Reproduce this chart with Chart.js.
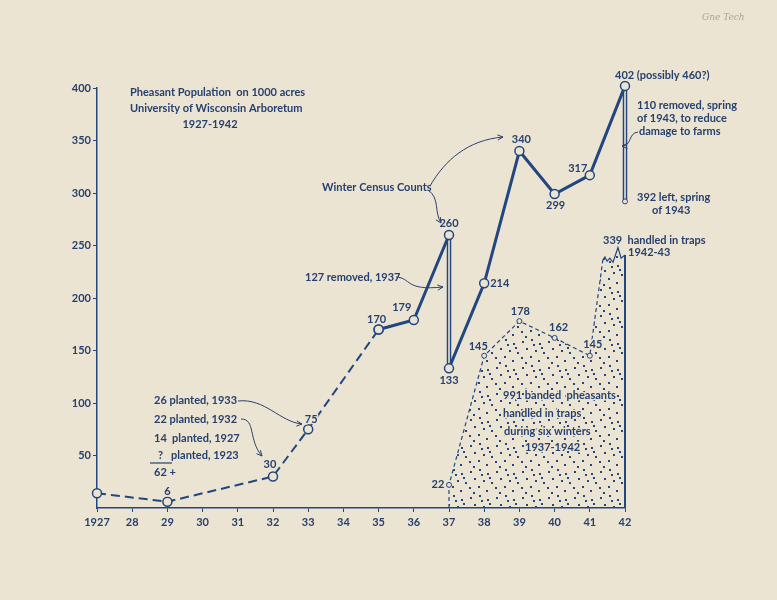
<!DOCTYPE html>
<html>
<head>
<meta charset="utf-8">
<script src="https://cdn.jsdelivr.net/npm/chart.js@4/dist/chart.umd.min.js"></script>
<style>
  html, body { margin: 0; padding: 0; background: #ebe4d2; }
  #wrap { width: 777px; height: 600px; position: relative; }
</style>
</head>
<body>
<div id="wrap"><canvas id="pheasants"></canvas></div>
<script>
// census counts, dashed part (early years)
const earlyYears = [1927, 1929, 1932, 1933, 1935];
const earlyCounts = [14, 6, 30, 75, 170];
// solid part up to the 1937 removal
const midYears = [1935, 1936, 1937];
const midCounts = [170, 179, 260];
// after the 127 removed in 1937
const lateYears = [1937, 1938, 1939, 1940, 1941, 1942];
const lateCounts = [133, 214, 340, 299, 317, 402];
// removals (drop lines)
const removal1937 = [260, 133];
const removal1942 = [402, 292];
// banded pheasants handled in traps (dotted area), incl. the broken-off top of 1942
const trapYears = [1937, 1937, 1938, 1939, 1940, 1941, 1941.37, 1941.43, 1941.49, 1941.57, 1941.66, 1941.8, 1941.89, 1942, 1942];
const trapCounts = [0, 22, 145, 178, 162, 145, 236, 239, 235, 238, 234, 248, 238, 241, 0];
const yTicks = [50, 100, 150, 200, 250, 300, 350, 400];

const INK = "#22467f";
const TXT = "#27406f";
const PAPER = "#ebe4d2";
const FONT = "bold 11px Lato, 'DejaVu Sans', sans-serif";

function pts(xs, ys) {
    return xs.map((x, i) => ({ x: x, y: ys[i] }));
}

// dot pattern for the traps area
function dotPattern() {
    const c = document.createElement("canvas");
    c.width = 26; c.height = 26;
    const g = c.getContext("2d");
    g.fillStyle = INK;
    const dots = [[2,3],[11,1],[19,5],[6,10],[15,12],[23,14],[1,19],[10,18],[18,22],[5,24],[21,9],[13,6]];
    dots.forEach(d => g.fillRect(d[0], d[1], 2, 2));
    return g.createPattern(c, "repeat");
}

function arrow(g, p) {
    // p: [x0,y0, c1x,c1y, c2x,c2y, x1,y1]
    g.beginPath();
    g.moveTo(p[0], p[1]);
    g.bezierCurveTo(p[2], p[3], p[4], p[5], p[6], p[7]);
    g.stroke();
    const a = Math.atan2(p[7] - p[5], p[6] - p[4]);
    g.beginPath();
    g.moveTo(p[6], p[7]);
    g.lineTo(p[6] - 6 * Math.cos(a - 0.45), p[7] - 6 * Math.sin(a - 0.45));
    g.moveTo(p[6], p[7]);
    g.lineTo(p[6] - 6 * Math.cos(a + 0.45), p[7] - 6 * Math.sin(a + 0.45));
    g.stroke();
}

const notes = {
    id: "notes",
    afterDraw(chart) {
        const g = chart.ctx;
        const xs = chart.scales.x, ys = chart.scales.y;
        const P = (x, y) => [xs.getPixelForValue(x), ys.getPixelForValue(y)];
        g.save();
        g.fillStyle = TXT;
        g.strokeStyle = TXT;
        g.font = FONT;
        g.textBaseline = "middle";
        g.lineJoin = "round";

        // text with a paper halo (for the dotted area)
        const halo = (t, x, y) => {
            g.save();
            g.strokeStyle = PAPER;
            g.lineWidth = 3;
            g.strokeText(t, x, y);
            g.restore();
            g.fillText(t, x, y);
        };

        // value labels next to points
        const lab = (x, y, t, dx, dy, al) => {
            const p = P(x, y);
            g.textAlign = al || "center";
            halo(t, p[0] + dx, p[1] + dy);
        };
        lab(1929, 6, "6", 0, -10);
        lab(1932, 30, "30", -3, -12);
        lab(1933, 75, "75", 3, -10);
        lab(1935, 170, "170", -2, -10);
        lab(1936, 179, "179", -12, -13);
        lab(1937, 260, "260", 0, -12);
        lab(1937, 133, "133", 0, 12);
        lab(1938, 214, "214", 6, 0, "left");
        lab(1939, 340, "340", 2, -12);
        lab(1940, 299, "299", 1, 11);
        lab(1941, 317, "317", -12, -7);
        lab(1942, 402, "402 (possibly 460?)", -10, -10, "left");
        lab(1937, 22, "22", -11, 0);
        lab(1938, 145, "145", -6, -9);
        lab(1939, 178, "178", 1, -10);
        lab(1940, 162, "162", 4, -10);
        lab(1941, 145, "145", 3, -11);

        // title
        g.textAlign = "left";
        g.fillText("Pheasant Population  on 1000 acres", 130, 92);
        g.fillText("University of Wisconsin Arboretum", 130, 108);
        g.textAlign = "center";
        g.fillText("1927-1942", 210, 124);

        // free notes
        g.textAlign = "left";
        g.fillText("Winter Census Counts", 322, 187);
        g.fillText("127 removed, 1937", 305, 277);
        g.fillText("110 removed, spring", 637, 105);
        g.fillText("of 1943, to reduce", 637, 118);
        g.fillText("damage to farms", 639, 131);
        g.fillText("392 left, spring", 637, 197);
        g.fillText("of 1943", 652, 210);
        g.fillText("339  handled in traps", 603, 240);
        g.fillText("1942-43", 628, 252);
        halo("991 banded  pheasants", 503, 395);
        halo("handled in traps", 503, 413);
        halo("during six winters", 504, 431);
        halo("1937-1942", 525, 447);
        g.fillText("26 planted, 1933", 154, 400);
        g.fillText("22 planted, 1932", 154, 419);
        g.fillText("14  planted, 1927", 154, 438);
        g.fillText("?   planted, 1923", 158, 455);
        g.fillText("62 +", 154, 472);

        g.lineWidth = 1.2;
        g.beginPath();
        g.moveTo(150, 463); g.lineTo(172, 463);
        g.stroke();

        g.lineWidth = 1;
        arrow(g, [430, 186, 445, 160, 468, 140, 503, 137]);
        arrow(g, [428, 190, 440, 198, 434, 212, 441, 223]);
        arrow(g, [396, 277, 412, 278, 404, 291, 443, 287]);
        arrow(g, [638, 132, 628, 133, 632, 146, 622, 146]);
        arrow(g, [238, 401, 265, 398, 280, 422, 302, 424]);
        arrow(g, [241, 419, 256, 419, 248, 440, 262, 456]);

        // pencil mark
        g.fillStyle = "rgba(120,115,105,0.55)";
        g.font = "italic 9px 'DejaVu Serif', serif";
        g.fillText("Gne Tech", 702, 18);
        g.restore();
    }
};

document.addEventListener("DOMContentLoaded", () => {
    const ctx = document.getElementById("pheasants");
    const hollow = { pointRadius: 4.5, pointBorderWidth: 1.5, pointBackgroundColor: PAPER, pointBorderColor: INK, clip: false };

    new Chart(ctx, {
        type: "line",
        data: {
            datasets: [
                Object.assign({ data: pts(earlyYears, earlyCounts), borderColor: INK, borderWidth: 2, borderDash: [9, 5], order: 1 }, hollow),
                Object.assign({ data: pts(midYears, midCounts), borderColor: INK, borderWidth: 3, order: 1 }, hollow),
                Object.assign({ data: pts(lateYears, lateCounts), borderColor: INK, borderWidth: 3, order: 1 }, hollow),
                { data: pts([1937, 1937], removal1937), borderColor: INK, borderWidth: 4.5, pointRadius: 0, order: 4, clip: false },
                { data: pts([1937, 1937], removal1937), borderColor: PAPER, borderWidth: 1.6, pointRadius: 0, order: 3, clip: false },
                { data: pts([1942, 1942], removal1942), borderColor: INK, borderWidth: 4.5, pointRadius: 0, order: 4, clip: false },
                { data: pts([1942, 1942], removal1942), borderColor: PAPER, borderWidth: 1.6, clip: false,
                  pointRadius: [0, 2.5], pointBorderWidth: 1, pointBorderColor: INK, pointBackgroundColor: PAPER, order: 3 },
                {
                    data: pts(trapYears, trapCounts),
                    borderColor: INK,
                    borderWidth: 1.2,
                    backgroundColor: dotPattern(),
                    fill: "origin",
                    clip: false,
                    pointRadius: trapCounts.map((v, i) => (i >= 1 && i <= 5 ? 2.5 : 0)),
                    pointBorderWidth: 1,
                    pointBorderColor: INK,
                    pointBackgroundColor: PAPER,
                    segment: {
                        borderDash: (c) => (c.p0DataIndex < 6 ? [4, 3] : []),
                        borderWidth: (c) => (c.p0DataIndex === 13 ? 2 : 1.2),
                    },
                    order: 5,
                },
            ],
        },
        options: {
            responsive: true,
            maintainAspectRatio: false,
            animation: false,
            layout: { padding: { left: 57, right: 152, top: 88, bottom: 62 } },
            plugins: { legend: { display: false }, tooltip: { enabled: false } },
            scales: {
                x: {
                    type: "linear",
                    min: 1927,
                    max: 1942,
                    afterFit: (s) => { s.height = 30; },
                    border: { color: INK, width: 1.5 },
                    grid: { drawOnChartArea: false, color: INK, tickLength: 4 },
                    ticks: {
                        stepSize: 1,
                        autoSkip: false,
                        padding: 4,
                        color: TXT,
                        font: { family: "Lato, 'DejaVu Sans', sans-serif", weight: "bold", size: 11 },
                        callback: (v) => (v === 1927 ? "1927" : String(v).slice(2)),
                    },
                },
                y: {
                    min: 0,
                    max: 400,
                    afterFit: (s) => { s.width = 40; },
                    afterBuildTicks: (s) => { s.ticks = yTicks.map((v) => ({ value: v })); },
                    border: { color: INK, width: 1.5 },
                    grid: { drawOnChartArea: false, color: INK, tickLength: 4 },
                    ticks: {
                        padding: 2,
                        color: TXT,
                        font: { family: "Lato, 'DejaVu Sans', sans-serif", weight: "bold", size: 11 },
                    },
                },
            },
        },
        plugins: [notes],
    });
});
</script>
</body>
</html>
